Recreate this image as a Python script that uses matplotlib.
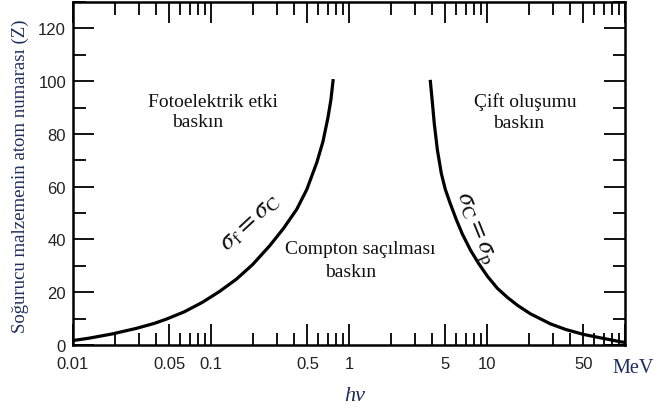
import numpy as np
import matplotlib
matplotlib.use("Agg")
import matplotlib.pyplot as plt
from matplotlib.ticker import FixedLocator, FixedFormatter, NullFormatter

# sigma_photo = sigma_compton boundary
pe_x = [0.01, 0.01307, 0.0192, 0.0287, 0.0388, 0.0474, 0.0641, 0.0867, 0.1153, 0.1531,
        0.2003, 0.266, 0.3365, 0.4188, 0.4951, 0.5848, 0.647, 0.703, 0.740, 0.769]
pe_z = [1.7, 2.6, 4.2, 6.3, 8.2, 9.8, 12.6, 16.2, 20.3, 25,
        30.5, 37.6, 44.3, 51.5, 59, 69.2, 77, 86, 93, 100.8]

# sigma_compton = sigma_pair boundary
pp_x = [3.88, 4.02, 4.15, 4.37, 4.67, 4.99, 5.43, 6.0, 6.64, 7.59, 8.68,
        10.1, 11.9, 14.1, 16.7, 20.7, 28.9, 37.2, 50.3, 66.9, 93.5, 100]
pp_z = [100.5, 92, 84, 74, 65, 59, 53.5, 47.5, 42, 36, 31,
        26, 21.5, 18, 15, 11.8, 8, 5.9, 4.0, 2.7, 1.2, 1.0]

xmajor = [0.01, 0.05, 0.1, 0.5, 1, 5, 10, 50, 100]
xlabels = ['0.01', '0.05', '0.1', '0.5', '1', '5', '10', '50', '']
yticks = [0, 20, 40, 60, 80, 100, 120]

navy = '#1f2d5c'
serif = ['Liberation Serif', 'DejaVu Serif']
plt.rcParams['mathtext.fontset'] = 'stix'

fig = plt.figure(figsize=(6.54, 4.10), dpi=100)
ax = fig.add_axes([0.1116, 0.156, 0.844, 0.8366])

ax.plot(pe_x, pe_z, color='black', lw=2.3, solid_capstyle='butt')
ax.plot(pp_x, pp_z, color='black', lw=2.3, solid_capstyle='butt')

ax.set_xscale('log')
ax.set_xlim(0.01, 100)
ax.set_ylim(0, 130)

ax.xaxis.set_major_locator(FixedLocator(xmajor))
ax.xaxis.set_major_formatter(FixedFormatter(xlabels))
minor = [m * d for d in [0.01, 0.1, 1, 10] for m in [2, 3, 4, 6, 7, 8, 9]]
ax.xaxis.set_minor_locator(FixedLocator(minor))
ax.xaxis.set_minor_formatter(NullFormatter())
ax.set_yticks(yticks)
ax.set_yticks(np.arange(10, 131, 20), minor=True)

ax.tick_params(which='both', direction='in', top=True, right=True,
               width=1.3, labelsize=12, labelcolor='#222222')
ax.tick_params(which='major', length=15)
ax.tick_params(which='minor', length=9)
ax.tick_params(axis='x', pad=8)
ax.tick_params(axis='y', pad=5)
for lab in ax.get_xticklabels() + ax.get_yticklabels():
    lab.set_family(['Liberation Sans', 'DejaVu Sans'])
for s in ax.spines.values():
    s.set_linewidth(1.8)

kw = dict(family=serif, fontsize=14, color='#111111', ha='center', va='center')
ax.text(0.1026, 92.4, 'Fotoelektrik etki', **kw)
ax.text(0.0798, 84.8, 'baskın', **kw)
ax.text(1.2, 36.4, 'Compton saçılması', **kw)
ax.text(1.035, 28, 'baskın', **kw)
ax.text(19.1, 92.4, 'Çift oluşumu', **kw)
ax.text(16.9, 84.5, 'baskın', **kw)

ax.text(0.19, 47, r'$\sigma_{\mathrm{f}} = \sigma_{\mathrm{C}}$', fontsize=19,
        rotation=43, ha='center', va='center', color='#111111')
ax.text(8.1, 44.7, r'$\sigma_{\mathrm{C}} = \sigma_{\mathrm{p}}$', fontsize=19,
        rotation=-68, ha='center', va='center', color='#111111')

fig.text(0.031, 0.571, 'Soğurucu malzemenin atom numarası (Z)', family=serif,
         fontsize=13.5, color=navy, rotation=90, ha='center', va='center')
fig.text(0.968, 0.102, 'MeV', family=serif, fontsize=14.5, color=navy,
         ha='center', va='center')
fig.text(0.543, 0.032, 'hv', family=serif, style='italic', fontsize=16,
         color=navy, ha='center', va='center')

fig.savefig('out.png', dpi=100)
